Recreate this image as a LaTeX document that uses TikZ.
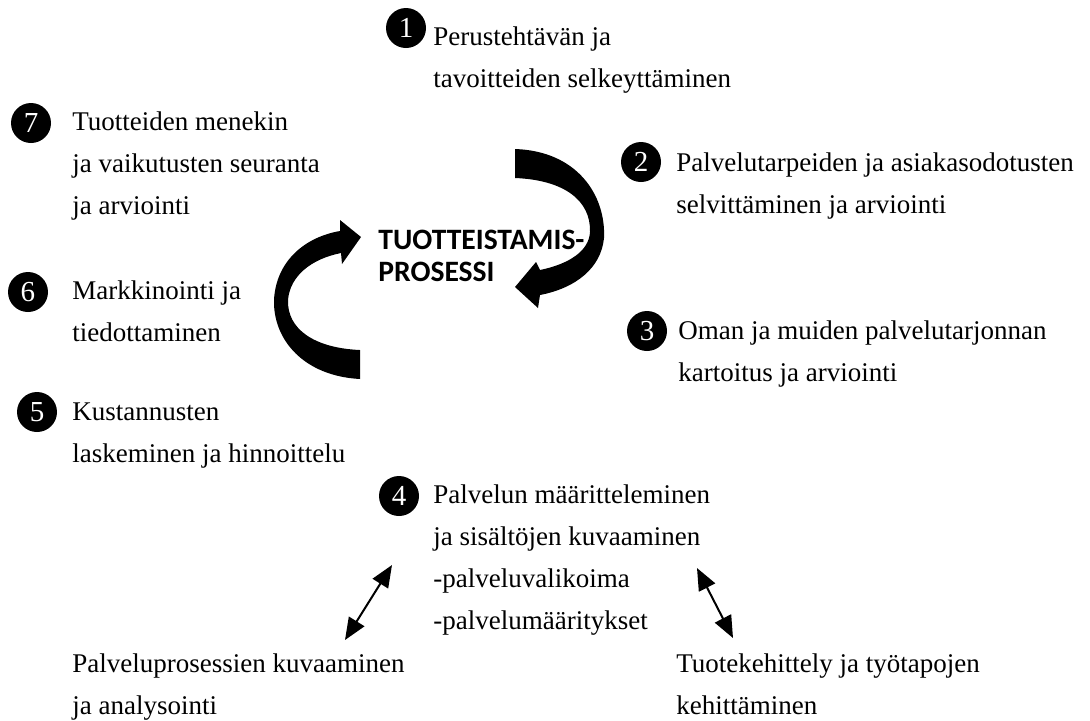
\documentclass[tikz,border=0pt]{standalone}
\usepackage{fontspec}
\setmainfont{Liberation Serif}
\newfontfamily\calibrifont{Carlito}
\usetikzlibrary{arrows.meta, positioning}

\begin{document}
\begin{tikzpicture}[
    x=0.5pt, y=-0.5pt,
    num/.style={
        circle, fill=black, text=white,
        minimum size=20pt, inner sep=0pt,
        font=\fontsize{14.5}{16}\selectfont
    },
    txt/.style={
        anchor=north west, inner sep=0pt,
        align=left,
        font=\fontsize{13.5}{21}\selectfont
    },
    ring/.style={fill=black, draw=none},
    arrow/.style={{Triangle[length=11pt,width=9pt]}-{Triangle[length=11pt,width=9pt]}, line width=1pt}
]
\useasboundingbox (0,0) rectangle (1090,720);

% Nodes
\node[num] (c1) at (406,28) {1};
\node[txt] (t1) at (433,26) {Perustehtävän ja\\tavoitteiden selkeyttäminen};

\node[num] (c2) at (641,162) {2};
\node[txt] (t2) at (676,152) {Palvelutarpeiden ja asiakasodotusten\\selvittäminen ja arviointi};

\node[num] (c3) at (647,331) {3};
\node[txt] (t3) at (678,320) {Oman ja muiden palvelutarjonnan\\kartoitus ja arviointi};

\node[num] (c4) at (399,496) {4};
\node[txt] (t4) at (433,484) {Palvelun määritteleminen\\ja sisältöjen kuvaaminen\\-palveluvalikoima\\-palvelumääritykset};

\node[num] (c5) at (37,412) {5};
\node[txt] (t5) at (72,402) {Kustannusten\\laskeminen ja hinnoittelu};

\node[num] (c6) at (28,292) {6};
\node[txt] (t6) at (72,280) {Markkinointi ja\\tiedottaminen};

\node[num] (c7) at (31,123) {7};
\node[txt] (t7) at (72,111) {Tuotteiden menekin\\ja vaikutusten seuranta\\ja arviointi};

\node[txt] (t8) at (72,653) {Palveluprosessien kuvaaminen\\ja analysointi};
\node[txt] (t9) at (676,653) {Tuotekehittely ja työtapojen\\kehittäminen};

\node[anchor=north west, inner sep=0pt, align=left,
      font=\calibrifont\bfseries\fontsize{14.8}{16}\selectfont]
      (core) at (378,230) {TUOTTEISTAMIS-\\PROSESSI};

% Curved arrows
\fill[ring] (515,149) .. controls (577,151) and (606,195) .. (604,238)
    .. controls (601,268) and (576,288) .. (540,295)
    -- (538,308) -- (515,287) -- (536,262) -- (540,270)
    .. controls (569,264) and (589,251) .. (590,232)
    .. controls (591,201) and (565,180) .. (515,178) -- cycle;

\fill[ring] (360,379) .. controls (304,376) and (273,340) .. (274,300)
    .. controls (276,261) and (305,237) .. (340,231)
    -- (340,220) -- (361,237) -- (342,264) -- (341,253)
    .. controls (311,259) and (290,276) .. (288,300)
    .. controls (287,329) and (314,348) .. (360,350) -- cycle;

% Arrows
\coordinate (l1) at (392,565);
\coordinate (l2) at (345,640);
\coordinate (r1) at (697,568);
\coordinate (r2) at (733,638);
\draw[arrow] (l1) -- (l2);
\draw[arrow] (r1) -- (r2);

\end{tikzpicture}
\end{document}
